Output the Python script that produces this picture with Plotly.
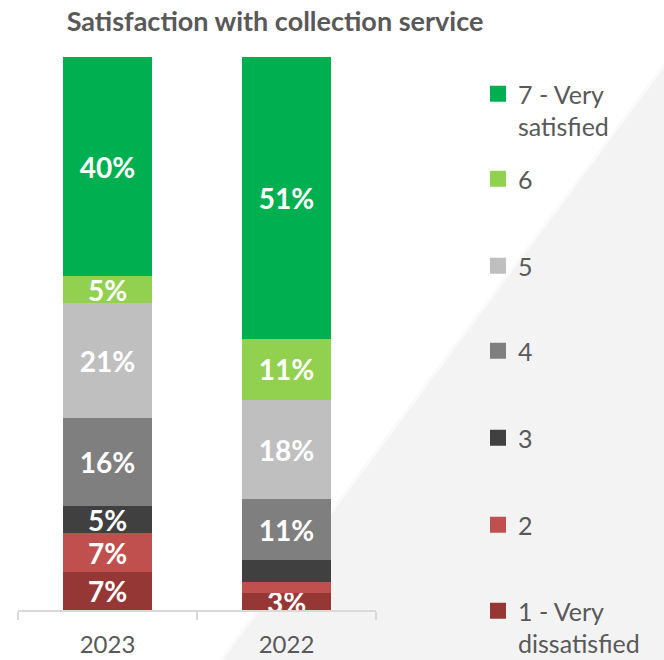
import plotly.graph_objects as go

# Survey years (left to right) and response levels (bottom to top of each stack)
years = ["2023", "2022"]
levels = ["1 - Very<br>dissatisfied", "2", "3", "4", "5", "6", "7 - Very<br>satisfied"]

# Share of respondents per level, in percent
pct_1 = [7, 3]
pct_2 = [7, 2]
pct_3 = [5, 4]
pct_4 = [16, 11]
pct_5 = [21, 18]
pct_6 = [5, 11]
pct_7 = [40, 51]
series = [pct_1, pct_2, pct_3, pct_4, pct_5, pct_6, pct_7]

# Segments too thin to carry a label
hidden_labels = {(1, 1), (2, 1)}

colors = ["#953735", "#C0504D", "#404040", "#7F7F7F", "#BFBFBF", "#92D050", "#00B050"]

W, H = 664, 660
FONT = "Lato"
TEXT_GREY = "#595959"

fig = go.Figure()

for i, (vals, col) in enumerate(zip(series, colors)):
    labels = ["" if (i, j) in hidden_labels else f"{v}%" for j, v in enumerate(vals)]
    fig.add_trace(go.Bar(
        x=years, y=vals, name=levels[i],
        marker=dict(color=col, line=dict(width=0)),
        text=labels, textposition="inside", insidetextanchor="middle",
        textfont=dict(family=FONT, size=28, color="white", weight="bold"),
        showlegend=False, cliponaxis=True,
    ))

# Legend: one block per level, top level first, evenly spaced down the right side
legend_top_px = [71, 156, 243, 328, 415, 502, 588]
for k, i in enumerate(reversed(range(len(levels)))):
    lname = "legend" if k == 0 else f"legend{k + 1}"
    fig.add_trace(go.Scatter(
        x=[None], y=[None], mode="markers", name=levels[i],
        marker=dict(symbol="square", size=16, color=colors[i]),
        legend=lname, showlegend=True, hoverinfo="skip",
    ))
    fig.update_layout({lname: dict(
        x=478 / W, xref="container", xanchor="left",
        y=1 - legend_top_px[k] / H, yref="container", yanchor="top",
        font=dict(family=FONT, size=25, color=TEXT_GREY),
        bgcolor="rgba(0,0,0,0)", borderwidth=0, valign="top",
        itemclick=False, itemdoubleclick=False,
    )})

# Light grey diagonal panel behind the right side, with a softer fringe along its edge
L, R, T, B = 18, 376, 57, 610
def px(xp, yp):
    return (xp - L) / (R - L), (B - yp) / (B - T)
def panel(dx, color):
    pts = [px(690 - dx, 33), px(223 - dx, 660), px(690, 660)]
    path = "M " + " L ".join(f"{a:.4f},{b:.4f}" for a, b in pts) + " Z"
    fig.add_shape(type="path", path=path, xref="paper", yref="paper",
                  fillcolor=color, line=dict(width=0), layer="below")
panel(4, "#FAFAFA")
panel(0, "#F3F3F3")

fig.update_layout(
    width=W, height=H,
    margin=dict(l=L, r=W - R, t=T, b=H - B, pad=0, autoexpand=False),
    paper_bgcolor="white", plot_bgcolor="rgba(0,0,0,0)",
    barmode="stack", barnorm="percent", bargap=0.5,
    title=dict(text="Satisfaction with collection service",
               x=275 / W, xref="container", xanchor="center",
               y=1 - 22 / H, yref="container", yanchor="middle",
               font=dict(family=FONT, size=27, color=TEXT_GREY, weight="bold")),
    uniformtext=dict(minsize=28, mode="show"),
    xaxis=dict(type="category", range=[-0.5, 1.5], showgrid=False,
               showline=True, linecolor="#D9D9D9", linewidth=1.5,
               ticks="outside", tickson="boundaries", ticklen=8,
               tickcolor="#D9D9D9", tickwidth=1.5, ticklabelstandoff=12,
               tickfont=dict(family=FONT, size=24, color=TEXT_GREY),
               automargin=False, fixedrange=True),
    yaxis=dict(range=[0, 100], visible=False, fixedrange=True),
)

fig.write_html("out.html")
